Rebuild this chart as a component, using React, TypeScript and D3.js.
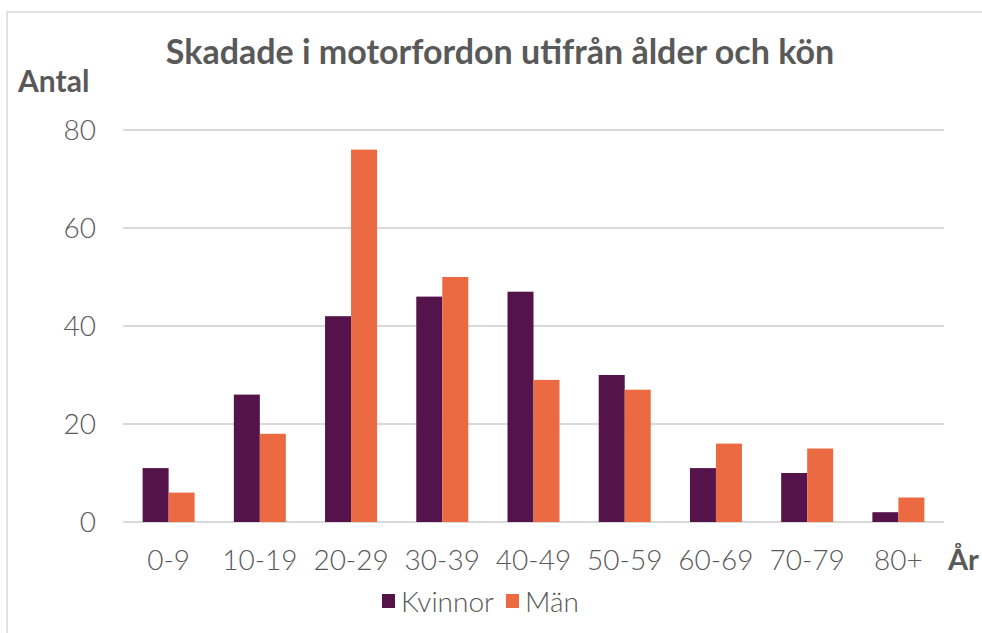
import React, { useEffect, useRef } from "react";
import * as d3 from "d3";

const categories = ["0-9", "10-19", "20-29", "30-39", "40-49", "50-59", "60-69", "70-79", "80+"];
const kvinnor = [11, 26, 42, 46, 47, 30, 11, 10, 2];
const man = [6, 18, 76, 50, 29, 27, 16, 15, 5];
const seriesNames = ["Kvinnor", "Män"];
const yTicks = [0, 20, 40, 60, 80];

const colors = ["#54134a", "#ec6a41"];
const textColor = "#595959";
const font = "Lato, 'Open Sans', sans-serif";

export default function App() {
  const ref = useRef<SVGSVGElement>(null);

  useEffect(() => {
    const svg = d3.select(ref.current);
    svg.selectAll("*").remove();

    const width = 982;
    const height = 633;
    const margin = { top: 130, right: 38, bottom: 111, left: 123 };

    // chart frame
    svg
      .append("rect")
      .attr("x", 7)
      .attr("y", 12)
      .attr("width", 1000)
      .attr("height", 700)
      .attr("fill", "#fff")
      .attr("stroke", "#d9d9d9")
      .attr("stroke-width", 1.5);

    const x = d3
      .scaleBand()
      .domain(categories)
      .range([margin.left, width - margin.right]);

    const y = d3
      .scaleLinear()
      .domain([0, 80])
      .range([height - margin.bottom, margin.top]);

    const inner = d3
      .scaleBand()
      .domain(seriesNames)
      .range([0, x.bandwidth() * 0.57])
      .padding(0);

    // gridlines
    svg
      .append("g")
      .selectAll("line")
      .data(yTicks)
      .join("line")
      .attr("x1", margin.left)
      .attr("x2", width - margin.right)
      .attr("y1", (d) => y(d))
      .attr("y2", (d) => y(d))
      .attr("stroke", "#d9d9d9")
      .attr("stroke-width", 2);

    const offset = (x.bandwidth() - x.bandwidth() * 0.57) / 2;
    const series = [kvinnor, man];

    series.forEach((vals, si) => {
      svg
        .append("g")
        .selectAll("rect")
        .data(vals)
        .join("rect")
        .attr("x", (_, i) => (x(categories[i]) as number) + offset + (inner(seriesNames[si]) as number))
        .attr("y", (d) => y(d))
        .attr("width", inner.bandwidth())
        .attr("height", (d) => y(0) - y(d))
        .attr("fill", colors[si]);
    });

    // y tick labels
    svg
      .append("g")
      .selectAll("text")
      .data(yTicks)
      .join("text")
      .attr("x", 96)
      .attr("y", (d) => y(d))
      .attr("dy", "0.35em")
      .attr("text-anchor", "end")
      .attr("font-family", font)
      .attr("font-size", 28)
      .attr("font-weight", 300)
      .attr("fill", textColor)
      .text((d) => d);

    // x tick labels
    svg
      .append("g")
      .selectAll("text")
      .data(categories)
      .join("text")
      .attr("x", (d) => (x(d) as number) + x.bandwidth() / 2)
      .attr("y", 570)
      .attr("text-anchor", "middle")
      .attr("font-family", font)
      .attr("font-size", 28)
      .attr("font-weight", 300)
      .attr("fill", textColor)
      .text((d) => d);

    // title and axis titles
    svg
      .append("text")
      .attr("x", 500)
      .attr("y", 64)
      .attr("text-anchor", "middle")
      .attr("font-family", font)
      .attr("font-size", 34)
      .attr("font-weight", 700)
      .attr("fill", textColor)
      .text("Skadade i motorfordon utifrån ålder och kön");

    svg
      .append("text")
      .attr("x", 18)
      .attr("y", 92)
      .attr("font-family", font)
      .attr("font-size", 30)
      .attr("font-weight", 700)
      .attr("fill", textColor)
      .text("Antal");

    svg
      .append("text")
      .attr("x", 948)
      .attr("y", 570)
      .attr("font-family", font)
      .attr("font-size", 29)
      .attr("font-weight", 700)
      .attr("fill", textColor)
      .text("År");

    // legend
    const legendX = [382, 506];
    const legend = svg
      .append("g")
      .selectAll("g")
      .data(seriesNames)
      .join("g")
      .attr("transform", (_, i) => `translate(${legendX[i]},594)`);

    legend
      .append("rect")
      .attr("width", 13)
      .attr("height", 14)
      .attr("fill", (_, i) => colors[i]);

    legend
      .append("text")
      .attr("x", 19)
      .attr("y", 18)
      .attr("font-family", font)
      .attr("font-size", 28)
      .attr("font-weight", 300)
      .attr("fill", textColor)
      .text((d) => d);
  }, []);

  return (
    <svg
      ref={ref}
      width={982}
      height={633}
      style={{ position: "absolute", left: 0, top: 0, display: "block" }}
    />
  );
}
